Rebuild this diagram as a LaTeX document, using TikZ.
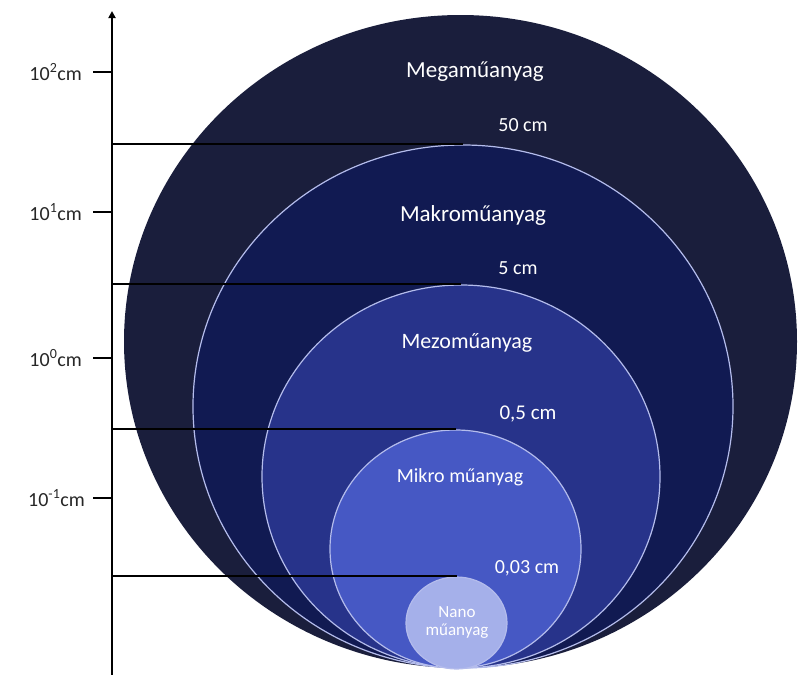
\documentclass[tikz,border=0pt]{standalone}
\usepackage{fontspec}
\setmainfont{Carlito}
\usetikzlibrary{shapes.geometric,arrows.meta}
\definecolor{cmega}{RGB}{26,30,60}
\definecolor{cmakro}{RGB}{17,26,82}
\definecolor{cmezo}{RGB}{39,51,138}
\definecolor{cmikro}{RGB}{70,88,196}
\definecolor{cnano}{RGB}{165,176,234}
\definecolor{crim}{RGB}{180,188,236}
\tikzset{
  blob/.style={ellipse, inner sep=0pt, line width=1.2pt},
  lbl/.style={text=white, inner sep=0pt, font=\fontsize{20}{22}\selectfont},
  ticklbl/.style={text=black!85, inner sep=0pt, anchor=east, font=\fontsize{20}{22}\selectfont},
  level/.style={draw=black, line width=2pt},
  tickmark/.style={draw=black, line width=2pt}
}
\begin{document}
\begin{tikzpicture}[x=1pt,y=-1pt]
\useasboundingbox (0,0) rectangle (801,675);
% circles
\node[blob, fill=cmega, minimum width=673pt, minimum height=653pt] (mega) at (460.5,341.5) {};
\node[blob, fill=cmakro, draw=crim, minimum width=540pt, minimum height=523pt] (makro) at (463,406.5) {};
\node[blob, fill=cmezo, draw=crim, minimum width=398pt, minimum height=383pt] (mezo) at (461,476.5) {};
\node[blob, fill=cmikro, draw=crim, minimum width=251pt, minimum height=238pt] (mikro) at (455.5,549) {};
\node[blob, fill=cnano, draw=crim, minimum width=101pt, minimum height=92pt] (nano) at (456.5,623) {};
% axis
\coordinate (axb) at (112,675);
\coordinate (axt) at (112,11);
\draw[line width=2.5pt, -{Triangle[length=7pt,width=7pt]}] (axb) -- (axt);
% level lines
\draw[level] (makro.north -| axb) -- (makro.north);
\draw[level] (mezo.north -| axb) -- (mezo.north);
\draw[level] (mikro.north -| axb) -- (mikro.north);
\draw[level] (nano.north -| axb) -- (nano.north);
% ticks
\coordinate (t2) at (112,72);
\coordinate (t1) at (112,212);
\coordinate (t0) at (112,358);
\coordinate (tm) at (112,498);
\foreach \t in {t2,t1,t0,tm}{\draw[tickmark] (\t) -- ++(-19,0);}
\node[ticklbl] (l2) at (82,72) {10\textsuperscript{2}cm};
\node[ticklbl] (l1) at (82,212) {10\textsuperscript{1}cm};
\node[ticklbl] (l0) at (82,358) {10\textsuperscript{0}cm};
\node[ticklbl] (lm) at (85,498) {10\textsuperscript{-1}cm};
% labels
\node[lbl, font=\fontsize{23}{25}\selectfont] (tmega) at (475,72) {Megaműanyag};
\node[lbl] (s50) at (523,125) {50 cm};
\node[lbl, font=\fontsize{23}{25}\selectfont] (tmakro) at (473,215) {Makroműanyag};
\node[lbl] (s5) at (518,268) {5 cm};
\node[lbl, font=\fontsize{22}{24}\selectfont] (tmezo) at (467,343) {Mezoműanyag};
\node[lbl, font=\fontsize{21}{23}\selectfont] (s05) at (528,414) {0,5 cm};
\node[lbl] (tmikro) at (460,477) {Mikro műanyag};
\node[lbl] (s003) at (527,568) {0,03 cm};
\node[lbl, font=\fontsize{17}{18}\selectfont, align=center] (tnano) at (457,622) {Nano\\műanyag};
\end{tikzpicture}
\end{document}
